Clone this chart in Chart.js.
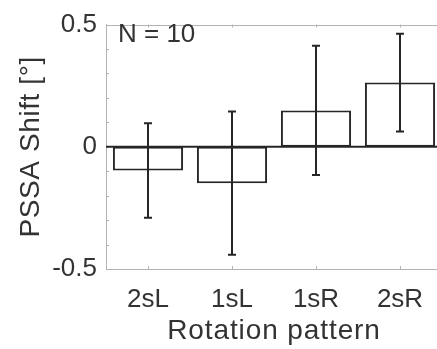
<!DOCTYPE html>
<html>
<head>
<meta charset="utf-8">
<script src="https://cdn.jsdelivr.net/npm/chart.js@4"></script>
<style>
html,body{margin:0;padding:0;background:#fff;overflow:hidden;}
#wrap{width:442px;height:349px;}
</style>
</head>
<body>
<div id="wrap"><canvas id="c" width="442" height="349"></canvas></div>
<script>
const categories = ["2sL", "1sL", "1sR", "2sR"];
const meanShift = [-0.097, -0.149, 0.149, 0.263];
const errShift = [0.193, 0.293, 0.264, 0.200];
const yTickLabels = [-0.5, 0, 0.5];
const annotationText = "N = 10";
const xTitle = "Rotation pattern";
const yTitle = "PSSA Shift [°]";

const AXIS = "#b3b3b3";
const INK = "#262626";
const TEXT = "#333333";
const FONT = "'Liberation Sans', Arial, sans-serif";

const boxPlugin = {
  id: "box",
  afterDatasetsDraw(chart) {
    const ctx = chart.ctx, a = chart.chartArea;
    const x = chart.scales.x, y = chart.scales.y;
    ctx.save();
    // top line of box
    ctx.strokeStyle = AXIS; ctx.lineWidth = 1;
    ctx.beginPath();
    ctx.moveTo(a.left, Math.round(a.top) + 0.5);
    ctx.lineTo(a.right, Math.round(a.top) + 0.5);
    ctx.stroke();
    // inner ticks on y axis (every 0.1)
    ctx.beginPath();
    for (let v = Math.round(y.min * 10); v <= Math.round(y.max * 10); v++) {
      const py = Math.round(y.getPixelForValue(v / 10)) + 0.5;
      ctx.moveTo(a.left, py); ctx.lineTo(a.left + 3, py);
    }
    // inner ticks on x axis (bottom and top)
    categories.forEach((c, i) => {
      const px = Math.round(x.getPixelForValue(i)) + 0.5;
      ctx.moveTo(px, a.bottom); ctx.lineTo(px, a.bottom - 3);
      ctx.moveTo(px, a.top); ctx.lineTo(px, a.top + 3);
    });
    ctx.stroke();
    // baseline at zero
    const y0 = y.getPixelForValue(0);
    ctx.strokeStyle = INK; ctx.lineWidth = 2;
    ctx.beginPath();
    ctx.moveTo(a.left, y0); ctx.lineTo(a.right, y0);
    ctx.stroke();
    // error bars
    const meta = chart.getDatasetMeta(0);
    ctx.lineWidth = 2; ctx.strokeStyle = INK;
    meta.data.forEach((bar, i) => {
      const px = bar.x;
      const yt = y.getPixelForValue(meanShift[i] + errShift[i]);
      const yb = y.getPixelForValue(meanShift[i] - errShift[i]);
      ctx.beginPath();
      ctx.moveTo(px, yt); ctx.lineTo(px, yb);
      ctx.moveTo(px - 4, yt); ctx.lineTo(px + 4, yt);
      ctx.moveTo(px - 4, yb); ctx.lineTo(px + 4, yb);
      ctx.stroke();
    });
    // annotation
    ctx.fillStyle = TEXT;
    ctx.font = "26px " + FONT;
    ctx.textBaseline = "alphabetic";
    ctx.textAlign = "left";
    ctx.fillText(annotationText, 118, 42);
    // axis titles
    ctx.font = "28px " + FONT;
    ctx.textAlign = "center";
    if ("letterSpacing" in ctx) ctx.letterSpacing = "0.9px";
    ctx.fillText(xTitle, (a.left + 442) / 2, 339);
    ctx.save();
    ctx.translate(39, y0);
    ctx.rotate(-Math.PI / 2);
    if ("letterSpacing" in ctx) ctx.letterSpacing = "0.6px";
    ctx.fillText(yTitle, 0, 0);
    ctx.restore();
    ctx.restore();
  }
};

new Chart(document.getElementById("c"), {
  type: "bar",
  data: {
    labels: categories,
    datasets: [{
      data: meanShift,
      backgroundColor: "#ffffff",
      borderColor: INK,
      borderWidth: 2,
      borderSkipped: false,
      barPercentage: 0.835,
      categoryPercentage: 1.0
    }]
  },
  options: {
    responsive: false,
    animation: false,
    events: [],
    layout: { padding: { top: 19, right: 0, bottom: 0, left: 0 } },
    plugins: { legend: { display: false }, tooltip: { enabled: false } },
    scales: {
      x: {
        grid: { display: false, drawTicks: false },
        border: { display: true, color: AXIS, width: 1 },
        ticks: { color: TEXT, font: { family: FONT, size: 26 }, padding: 15, maxRotation: 0 },
        title: { display: false },
        afterFit(s) { s.height = 80; }
      },
      y: {
        min: -0.5, max: 0.5,
        afterBuildTicks(s) { s.ticks = yTickLabels.map(v => ({ value: v })); },
        grid: { display: false, drawTicks: false },
        border: { display: true, color: AXIS, width: 1 },
        ticks: { color: TEXT, font: { family: FONT, size: 26 }, padding: 9,
                 callback: v => (v === 0 ? "0" : String(v)) },
        title: { display: false },
        afterFit(s) { s.width = 106; }
      }
    }
  },
  plugins: [boxPlugin]
});
</script>
</body>
</html>
